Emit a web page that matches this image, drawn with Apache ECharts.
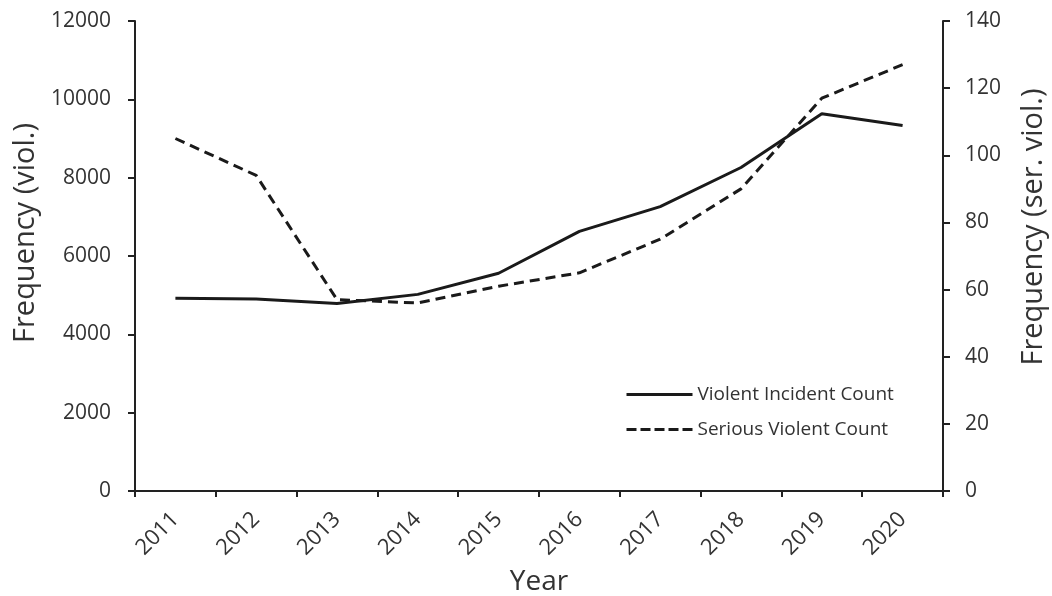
<!DOCTYPE html>
<html>
<head>
<meta charset="utf-8">
<script src="https://cdn.jsdelivr.net/npm/echarts@6/dist/echarts.min.js"></script>
<style>html,body{margin:0;padding:0;background:#fff}#c{width:1052px;height:596px}</style>
</head>
<body>
<div id="c"></div>
<script>
const years = ['2011','2012','2013','2014','2015','2016','2017','2018','2019','2020'];
const violentIncidents = [4920, 4900, 4790, 5020, 5560, 6630, 7260, 8260, 9630, 9330];
const seriousViolent = [105, 94, 57, 56, 61, 65, 75, 90, 117, 127];
const leftTicks = {min: 0, max: 12000, interval: 2000};
const rightTicks = {min: 0, max: 140, interval: 20};

const FONT = 'Open Sans';
const TXT = '#333';
const AX = '#222';
const LINE = '#1a1a1a';
const chart = echarts.init(document.getElementById('c'), null, {renderer: 'canvas'});
chart.setOption({
  animation: false,
  backgroundColor: '#fff',
  textStyle: {fontFamily: FONT},
  grid: {left: 135, right: 109, top: 21, bottom: 105, containLabel: false, outerBoundsMode: 'none'},
  legend: {
    orient: 'vertical', left: 620, top: 380, itemWidth: 66, itemHeight: 14, itemGap: 16,
    textStyle: {fontFamily: FONT, fontSize: 19, color: TXT},
    itemStyle: {opacity: 0},
    data: [
      {name: 'Violent Incident Count', lineStyle: {width: 3, type: 'solid', color: LINE}},
      {name: 'Serious Violent Count', lineStyle: {width: 3, type: [10, 4], color: LINE}}
    ]
  },
  xAxis: {
    type: 'category', data: years, boundaryGap: true,
    name: 'Year', nameLocation: 'middle', nameGap: 77,
    nameTextStyle: {fontFamily: FONT, fontSize: 28, color: TXT},
    axisLine: {lineStyle: {color: AX, width: 2}},
    axisTick: {show: true, alignWithLabel: false, length: 6, lineStyle: {color: AX, width: 2}},
    axisLabel: {rotate: 45, fontSize: 22, color: TXT, margin: 25, fontFamily: FONT}
  },
  yAxis: [{
    type: 'value', min: leftTicks.min, max: leftTicks.max, interval: leftTicks.interval,
    name: 'Frequency (viol.)', nameLocation: 'middle', nameGap: 90, nameRotate: 90,
    nameTextStyle: {fontFamily: FONT, fontSize: 29, color: TXT, padding: [0, 0, 0, 46]},
    axisLine: {show: true, lineStyle: {color: AX, width: 2}},
    axisTick: {show: true, length: 7, lineStyle: {color: AX, width: 2}},
    splitLine: {show: false},
    axisLabel: {fontSize: 21, color: TXT, margin: 24, fontFamily: FONT, formatter: v => String(v)}
  }, {
    type: 'value', position: 'right', min: rightTicks.min, max: rightTicks.max, interval: rightTicks.interval,
    name: 'Frequency (ser. viol.)', nameLocation: 'middle', nameGap: 76, nameRotate: 90,
    nameTextStyle: {fontFamily: FONT, fontSize: 29, color: TXT, padding: [0, 0, 0, 58]},
    axisLine: {show: true, lineStyle: {color: AX, width: 2}},
    axisTick: {show: true, length: 7, lineStyle: {color: AX, width: 2}},
    splitLine: {show: false},
    axisLabel: {fontSize: 21, color: TXT, margin: 22, fontFamily: FONT, formatter: v => String(v)}
  }],
  series: [{
    name: 'Violent Incident Count', type: 'line', yAxisIndex: 0, data: violentIncidents,
    symbol: 'none', lineStyle: {color: LINE, width: 3, type: 'solid'}, itemStyle: {color: LINE}
  }, {
    name: 'Serious Violent Count', type: 'line', yAxisIndex: 1, data: seriousViolent,
    symbol: 'none', lineStyle: {color: LINE, width: 3, type: [10, 6]}, itemStyle: {color: LINE}
  }]
});
</script>
</body>
</html>
